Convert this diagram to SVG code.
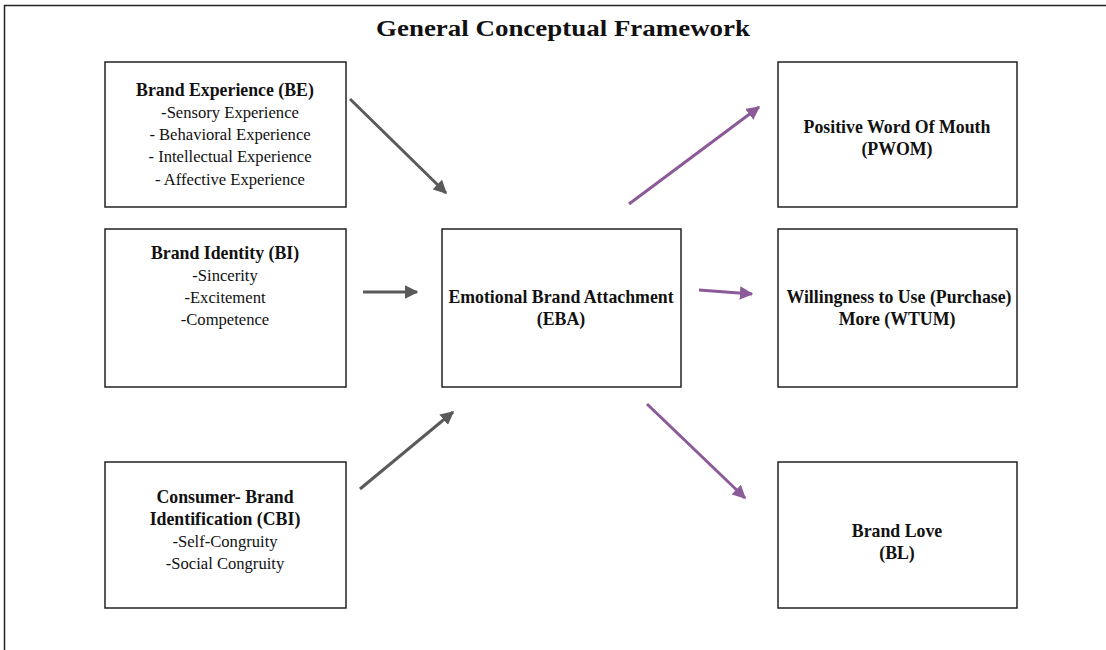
<svg xmlns="http://www.w3.org/2000/svg" width="1106" height="650" viewBox="0 0 1106 650">
<style>
.box{fill:#fff;stroke:#222;stroke-width:1.5}
text{font-family:"Liberation Serif","Times New Roman",serif;font-size:16.6px;fill:#111;text-anchor:middle}
.b{font-weight:bold;font-size:17.8px}
.g{stroke:#5a5a5a;stroke-width:3;fill:none}
.p{stroke:#8b5a98;stroke-width:3;fill:none}
</style>
<defs>
<marker id="ag" viewBox="0 0 10 10" refX="9" refY="5" markerWidth="4.5" markerHeight="4.5" orient="auto" markerUnits="strokeWidth"><path d="M0,0 L10,5 L0,10 z" fill="#5a5a5a"/></marker>
<marker id="ap" viewBox="0 0 10 10" refX="9" refY="5" markerWidth="4.5" markerHeight="4.5" orient="auto" markerUnits="strokeWidth"><path d="M0,0 L10,5 L0,10 z" fill="#8b5a98"/></marker>
</defs>
<rect width="1106" height="650" fill="#fff"/>
<path d="M4.5,650 V5.5 H1106" fill="none" stroke="#222" stroke-width="1.5"/>
<text x="563" y="36" class="b" style="font-size:24px" textLength="374" lengthAdjust="spacingAndGlyphs">General Conceptual Framework</text>
<g id="be"><rect class="box" x="105" y="62" width="241" height="145"/>
<text x="225" y="96" class="b">Brand Experience (BE)</text>
<text x="230" y="118">-Sensory Experience</text>
<text x="230" y="140">- Behavioral Experience</text>
<text x="230" y="162">- Intellectual Experience</text>
<text x="230" y="185">- Affective Experience</text></g>
<g id="bi"><rect class="box" x="105" y="229" width="241" height="158"/>
<text x="225" y="259" class="b">Brand Identity (BI)</text>
<text x="225" y="281">-Sincerity</text>
<text x="225" y="303">-Excitement</text>
<text x="225" y="325">-Competence</text></g>
<g id="cbi"><rect class="box" x="105" y="462" width="241" height="146"/>
<text x="225" y="503" class="b">Consumer- Brand</text>
<text x="225" y="525" class="b">Identification (CBI)</text>
<text x="225" y="547">-Self-Congruity</text>
<text x="225" y="569">-Social Congruity</text></g>
<g id="eba"><rect class="box" x="442" y="229" width="239" height="158"/>
<text x="561" y="303" class="b">Emotional Brand Attachment</text>
<text x="561" y="325" class="b">(EBA)</text></g>
<g id="pwom"><rect class="box" x="778" y="62" width="239" height="145"/>
<text x="897" y="133" class="b">Positive Word Of Mouth</text>
<text x="897" y="155" class="b">(PWOM)</text></g>
<g id="wtum"><rect class="box" x="778" y="229" width="239" height="158"/>
<text x="899" y="303" class="b">Willingness to Use (Purchase)</text>
<text x="897" y="325" class="b">More (WTUM)</text></g>
<g id="bl"><rect class="box" x="778" y="462" width="239" height="146"/>
<text x="897" y="537" class="b">Brand Love</text>
<text x="897" y="559" class="b">(BL)</text></g>
<g id="connectors">
<line class="g" x1="350" y1="99" x2="446" y2="193" marker-end="url(#ag)"/>
<line class="g" x1="363" y1="292" x2="417" y2="292" marker-end="url(#ag)"/>
<line class="g" x1="360" y1="489" x2="453" y2="412" marker-end="url(#ag)"/>
<line class="p" x1="629" y1="204" x2="759" y2="107" marker-end="url(#ap)"/>
<line class="p" x1="699" y1="290" x2="752" y2="294" marker-end="url(#ap)"/>
<line class="p" x1="647" y1="404" x2="745" y2="498" marker-end="url(#ap)"/>
</g>
</svg>
